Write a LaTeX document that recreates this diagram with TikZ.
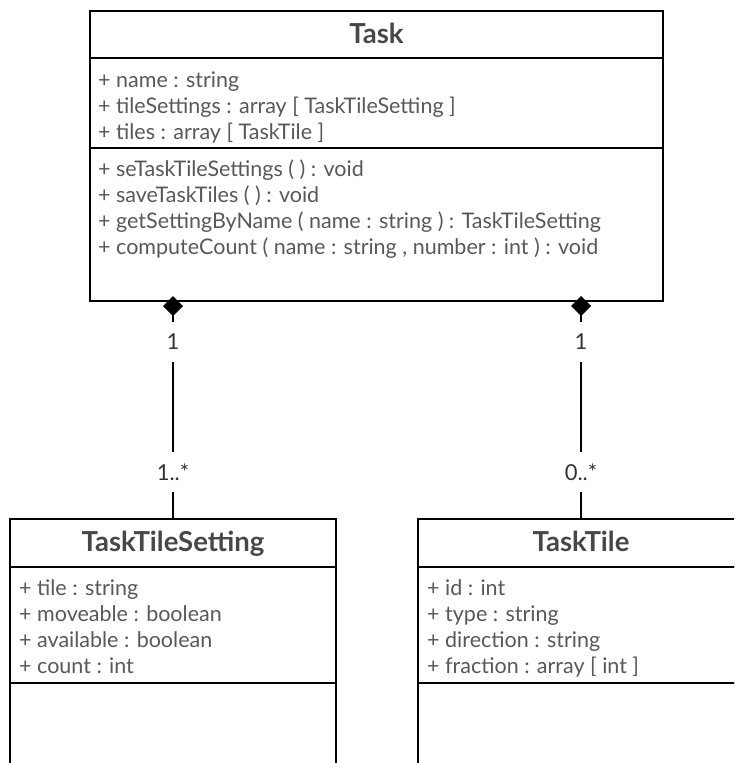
\documentclass[tikz,border=0pt]{standalone}
\usepackage{fontspec}
\setmainfont{Lato}
\usetikzlibrary{positioning,arrows.meta}
\definecolor{umltitle}{HTML}{474747}
\definecolor{umltext}{HTML}{585858}
\definecolor{umlmult}{HTML}{333333}

\begin{document}
\begin{tikzpicture}[x=1pt,y=-1pt,
    cls/.style={draw, line width=2.2pt, outer sep=0pt, inner sep=0pt, minimum width=#1},
    classname/.style={font=\fontsize{27.5}{30}\selectfont\bfseries, text=umltitle, text height=20pt, text depth=3pt},
    members/.style={anchor=north west, inner sep=0pt, align=left, text=umltext, font=\fontsize{21.5}{26}\selectfont},
    mult/.style={fill=white, inner sep=2pt, minimum height=40pt, text=umlmult, font=\fontsize{22}{24}\selectfont},
    compose/.style={line width=2.2pt, {Diamond[length=20pt,width=20pt]}-}]
    \useasboundingbox (0,0) rectangle (734,763);
    \clip (0,0) rectangle (734,763);

    \node[cls=573pt, classname, minimum height=47pt, anchor=north west] (task) at (90,11) {Task};
    \node[cls=573pt, minimum height=90pt, below=0pt of task] (taskattr) {};
    \node[cls=573pt, minimum height=153pt, below=0pt of taskattr] (taskops) {};
    \node[members] (taskattrtxt) at ([shift={(8,11)}]taskattr.north west)
        {\strut+ name : string\\+ tileSettings : array [ TaskTileSetting ]\\+ tiles : array [ TaskTile ]};
    \node[members] (taskopstxt) at ([shift={(8,10)}]taskops.north west)
        {\strut+ seTaskTileSettings ( ) : void\\+ saveTaskTiles ( ) : void\\+ getSettingByName ( name : string ) : TaskTileSetting\\+ computeCount ( name : string , number : int ) : void};

    \node[cls=326pt, classname, minimum height=48pt, anchor=north west] (tts) at (10,519) {TaskTileSetting};
    \node[cls=326pt, minimum height=116pt, below=0pt of tts] (ttsattr) {};
    \node[cls=326pt, minimum height=120pt, below=0pt of ttsattr] (ttsops) {};
    \node[members] (ttsattrtxt) at ([shift={(9,10)}]ttsattr.north west)
        {\strut+ tile : string\\+ moveable : boolean\\+ available : boolean\\+ count : int};

    \node[cls=326pt, classname, minimum height=48pt, anchor=north west] (tile) at (418,519) {TaskTile};
    \node[cls=326pt, minimum height=116pt, below=0pt of tile] (tileattr) {};
    \node[cls=326pt, minimum height=120pt, below=0pt of tileattr] (tileops) {};
    \node[members] (tileattrtxt) at ([shift={(9,10)}]tileattr.north west)
        {\strut+ id : int\\+ type : string\\+ direction : string\\+ fraction : array [ int ]};

    \draw[compose] ([yshift=5pt]taskops.south -| tts.north) -- node[mult, pos=0.206] (m1) {1}
        node[mult, pos=0.789] (m2) {1..*} (tts.north);
    \draw[compose] ([yshift=5pt]taskops.south -| tile.north) -- node[mult, pos=0.206] (m3) {1}
        node[mult, pos=0.789] (m4) {0..*} (tile.north);
\end{tikzpicture}
\end{document}
